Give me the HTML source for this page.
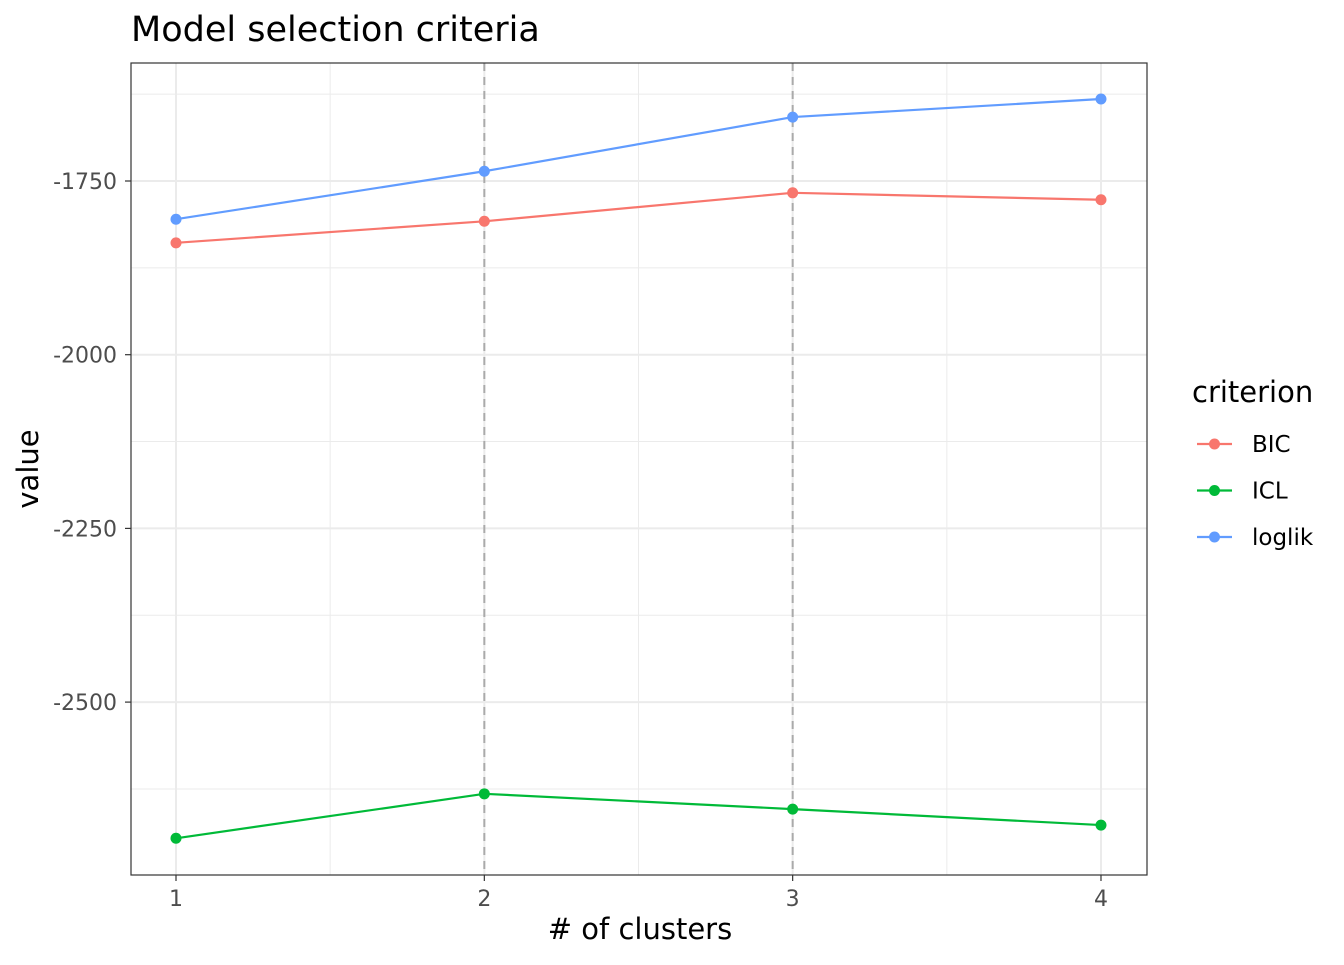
<!DOCTYPE html>
<html><head><meta charset="utf-8"><style>
body{margin:0;background:#fff;font-family:"Liberation Sans","DejaVu Sans",sans-serif;}
svg text{font-family:"DejaVu Sans","Liberation Sans",sans-serif;}
</style></head><body>
<svg id="chart" width="1344" height="960" xmlns="http://www.w3.org/2000/svg">
<rect width="1344" height="960" fill="#fff"/>
<text x="131" y="41" font-size="35" fill="#000">Model selection criteria</text>
<g id="grid"></g>
<g id="marks"></g>
<rect x="131" y="63" width="1016" height="812" fill="none" stroke="#333" stroke-width="1.2"/>
<g id="axes"></g>
<text x="640" y="939" font-size="29" text-anchor="middle" fill="#000"># of clusters</text>
<text transform="translate(38,469) rotate(-90)" font-size="29" text-anchor="middle" fill="#000">value</text>
<g id="legend"></g>
</svg>
<script>
const categories=[1,2,3,4];
const seriesNames=["BIC","ICL","loglik"];
const bicValues=[-1839,-1808,-1767,-1777];
const iclValues=[-2696,-2632,-2654,-2677];
const loglikValues=[-1805,-1736,-1658,-1632];
const yTicks=[-1750,-2000,-2250,-2500];
const yMinor=[-1625,-1875,-2125,-2375,-2625];
const xMinor=[1.5,2.5,3.5];
const selectedK=[2,3];
const colors={BIC:"#F8766D",ICL:"#00BA38",loglik:"#619CFF"};
const NS="http://www.w3.org/2000/svg";
const X=v=>176+(v-1)*308.33;
const Y=v=>181-(v+1750)*0.6948;
function mk(tag,attrs,parent,text){const e=document.createElementNS(NS,tag);for(const k in attrs)e.setAttribute(k,attrs[k]);if(text!==undefined)e.textContent=text;parent.appendChild(e);return e;}
const grid=document.getElementById('grid'),marks=document.getElementById('marks'),axes=document.getElementById('axes'),legend=document.getElementById('legend');
yMinor.forEach(v=>{const l=mk('line',{x1:131,x2:1147,y1:Y(v),y2:Y(v),stroke:'#ebebeb','stroke-width':1},grid);

});
xMinor.forEach(v=>{const l=mk('line',{x1:X(v),x2:X(v),y1:63,y2:875,stroke:'#ebebeb','stroke-width':1},grid);

});
yTicks.forEach(v=>{const l=mk('line',{x1:131,x2:1147,y1:Y(v),y2:Y(v),stroke:'#ebebeb','stroke-width':2},grid);


mk('line',{x1:125,x2:131,y1:Y(v),y2:Y(v),stroke:'#333','stroke-width':1.2},axes);
const t=mk('text',{x:117,y:Y(v)+8,'font-size':22,'text-anchor':'end',fill:'#4d4d4d'},axes,String(v));

});
categories.forEach(v=>{const l=mk('line',{x1:X(v),x2:X(v),y1:63,y2:875,stroke:'#ebebeb','stroke-width':2},grid);


mk('line',{x1:X(v),x2:X(v),y1:875,y2:881,stroke:'#333','stroke-width':1.2},axes);
const t=mk('text',{x:X(v),y:906,'font-size':22,'text-anchor':'middle',fill:'#4d4d4d'},axes,String(v));

});
selectedK.forEach(v=>{const l=mk('line',{x1:X(v),x2:X(v),y1:63,y2:875,stroke:'#aaa','stroke-width':2,'stroke-dasharray':'8,6'},marks);

});
const data={BIC:bicValues,ICL:iclValues,loglik:loglikValues};
seriesNames.forEach(s=>{const vals=data[s];
const p=mk('polyline',{points:vals.map((v,i)=>X(categories[i])+','+Y(v)).join(' '),fill:'none',stroke:colors[s],'stroke-width':2.2},marks);


vals.forEach((v,i)=>{const c=mk('circle',{cx:X(categories[i]),cy:Y(v),r:5.5,fill:colors[s]},marks);

});});
const lt=mk('text',{x:1192,y:402,'font-size':29,fill:'#000'},legend,'criterion');


seriesNames.forEach((s,i)=>{const y=444+i*46.5;
const g=mk('g',{},legend);


mk('line',{x1:1197,x2:1232,y1:y,y2:y,stroke:colors[s],'stroke-width':2.2},g);
mk('circle',{cx:1214.5,cy:y,r:5.5,fill:colors[s]},g);
mk('text',{x:1252,y:y+8,'font-size':23,fill:'#000'},g,s);});
</script>
</body></html>
